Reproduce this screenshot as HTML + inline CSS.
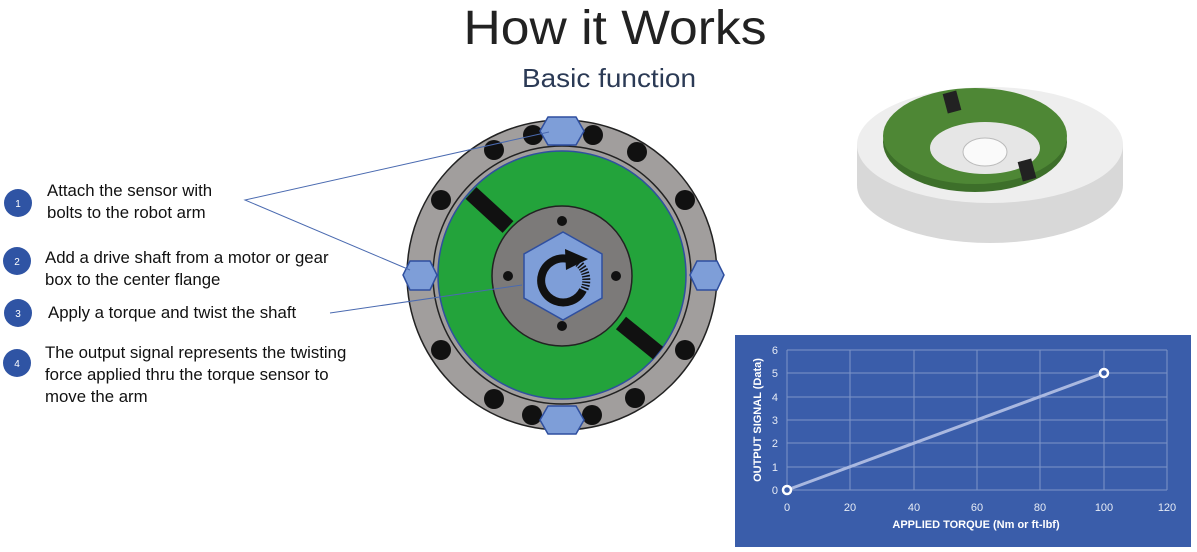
<!DOCTYPE html>
<html><head><meta charset="utf-8"><style>
body{margin:0;background:#fff;}
svg{display:block;font-family:"Liberation Sans",sans-serif;}
</style></head><body>
<svg width="1197" height="552" viewBox="0 0 1197 552" xmlns="http://www.w3.org/2000/svg">
<text x="615" y="44" font-size="48" text-anchor="middle" textLength="303" lengthAdjust="spacingAndGlyphs" fill="#222">How it Works</text>
<text x="609" y="87" font-size="26" text-anchor="middle" textLength="174" lengthAdjust="spacingAndGlyphs" fill="#2b3a55">Basic function</text>

<!-- steps -->
<g fill="#2f54a4"><circle cx="18" cy="203" r="14"/><circle cx="17" cy="261" r="14"/><circle cx="18" cy="313" r="14"/><circle cx="17" cy="363" r="14"/></g>
<g fill="#fff" font-size="10" text-anchor="middle"><text x="18" y="207">1</text><text x="17" y="265">2</text><text x="18" y="317">3</text><text x="17" y="367">4</text></g>
<g font-size="16.8" fill="#111">
<text x="47" y="196">Attach the sensor with</text>
<text x="47" y="218">bolts to the robot arm</text>
<text x="45" y="263">Add a drive shaft from a motor or gear</text>
<text x="45" y="285">box to the center flange</text>
<text x="48" y="318">Apply a torque and twist the shaft</text>
<text x="45" y="358">The output signal represents the twisting</text>
<text x="45" y="380">force applied thru the torque sensor to</text>
<text x="45" y="402">move the arm</text>
</g>

<!-- wheel -->
<circle cx="562" cy="275" r="155" fill="#a19e9d" stroke="#222" stroke-width="1.5"/>
<circle cx="562" cy="275" r="129" fill="#a19e9d" stroke="#222" stroke-width="1.5"/>
<circle cx="562" cy="275" r="124" fill="#23a33b" stroke="#2f4f9f" stroke-width="1.5"/>
<g fill="#111">
<circle cx="533" cy="135" r="10"/><circle cx="593" cy="135" r="10"/>
<circle cx="494" cy="150" r="10"/><circle cx="637" cy="152" r="10"/>
<circle cx="441" cy="200" r="10"/><circle cx="685" cy="200" r="10"/>
<circle cx="441" cy="350" r="10"/><circle cx="685" cy="350" r="10"/>
<circle cx="494" cy="399" r="10"/><circle cx="635" cy="398" r="10"/>
<circle cx="532" cy="415" r="10"/><circle cx="592" cy="415" r="10"/>
</g>
<g stroke="#111" stroke-width="16"><line x1="471" y1="193" x2="508" y2="227"/><line x1="621" y1="323" x2="658" y2="353"/></g>
<circle cx="562" cy="276" r="70" fill="#7c7a79" stroke="#222" stroke-width="1.5"/>
<g fill="#111"><circle cx="562" cy="221" r="5"/><circle cx="508" cy="276" r="5"/><circle cx="616" cy="276" r="5"/><circle cx="562" cy="326" r="5"/></g>
<polygon points="563,232 602,254 602,298 563,320 524,298 524,254" fill="#7e9ed8" stroke="#2f4f9f" stroke-width="1.5"/>
<path d="M568,259 A22,22 0 1 0 583,290" fill="none" stroke="#111" stroke-width="8"/>
<polygon points="565,249 588,259 566,270" fill="#111"/>
<path d="M578,263 A22,22 0 0 1 584,290" fill="none" stroke="#111" stroke-width="8" stroke-dasharray="1.5 1.5"/>
<g fill="#7e9ed8" stroke="#2f4f9f" stroke-width="1.5">
<polygon points="548,117 576,117 584,131 576,145 548,145 540,131"/>
<polygon points="548,406 576,406 584,420 576,434 548,434 540,420"/>
<polygon points="410,261 430,261 437,275 430,290 410,290 403,275"/>
<polygon points="697,261 717,261 724,275 717,290 697,290 690,275"/>
</g>
<g stroke="#4a6ab0" stroke-width="1" fill="none">
<polyline points="549,132 245,200 410,270"/>
<line x1="330" y1="313" x2="522" y2="285"/>
</g>

<!-- product image -->
<ellipse cx="990" cy="185" rx="133" ry="58" fill="#d8d8d8"/>
<rect x="857" y="145" width="266" height="40" fill="#d8d8d8"/>
<ellipse cx="990" cy="145" rx="133" ry="58" fill="#eeeeee"/>
<ellipse cx="975" cy="142" rx="92" ry="50" fill="#3d6f2a"/>
<ellipse cx="975" cy="136" rx="92" ry="48" fill="#4e8735"/>
<ellipse cx="985" cy="148" rx="55" ry="26" fill="#e6e6e6"/>
<ellipse cx="985" cy="152" rx="22" ry="14" fill="#fafafa" stroke="#bbb"/>
<rect x="945" y="92" width="14" height="20" fill="#222" transform="rotate(-15 952 102)"/>
<rect x="1020" y="160" width="14" height="20" fill="#222" transform="rotate(-15 1027 170)"/>

<!-- chart -->
<rect x="735" y="335" width="456" height="212" fill="#3a5daa"/>
<g stroke="#7d95c8" stroke-width="1">
<line x1="787" y1="350" x2="1167" y2="350"/><line x1="787" y1="373" x2="1167" y2="373"/>
<line x1="787" y1="397" x2="1167" y2="397"/><line x1="787" y1="420" x2="1167" y2="420"/>
<line x1="787" y1="443" x2="1167" y2="443"/><line x1="787" y1="467" x2="1167" y2="467"/>
<line x1="787" y1="490" x2="1167" y2="490"/>
<line x1="787" y1="350" x2="787" y2="490"/><line x1="850" y1="350" x2="850" y2="490"/>
<line x1="914" y1="350" x2="914" y2="490"/><line x1="977" y1="350" x2="977" y2="490"/>
<line x1="1040" y1="350" x2="1040" y2="490"/><line x1="1104" y1="350" x2="1104" y2="490"/>
<line x1="1167" y1="350" x2="1167" y2="490"/>
</g>
<line x1="787" y1="490" x2="1104" y2="373" stroke="#a9b8e0" stroke-width="3"/>
<circle cx="787" cy="490" r="4" fill="#3a5daa" stroke="#fff" stroke-width="2.5"/>
<circle cx="1104" cy="373" r="4" fill="#3a5daa" stroke="#fff" stroke-width="2.5"/>
<g fill="#e6ebf5" font-size="11" text-anchor="end">
<text x="778" y="354">6</text><text x="778" y="377">5</text><text x="778" y="401">4</text><text x="778" y="424">3</text><text x="778" y="447">2</text><text x="778" y="471">1</text><text x="778" y="494">0</text>
</g>
<g fill="#e6ebf5" font-size="11" text-anchor="middle">
<text x="787" y="511">0</text><text x="850" y="511">20</text><text x="914" y="511">40</text><text x="977" y="511">60</text><text x="1040" y="511">80</text><text x="1104" y="511">100</text><text x="1167" y="511">120</text>
</g>
<text x="976" y="528" font-size="11" font-weight="bold" fill="#fff" text-anchor="middle">APPLIED TORQUE (Nm or ft-lbf)</text>
<text transform="translate(761,420) rotate(-90)" font-size="11" font-weight="bold" fill="#fff" text-anchor="middle">OUTPUT SIGNAL (Data)</text>
</svg>
</body></html>
